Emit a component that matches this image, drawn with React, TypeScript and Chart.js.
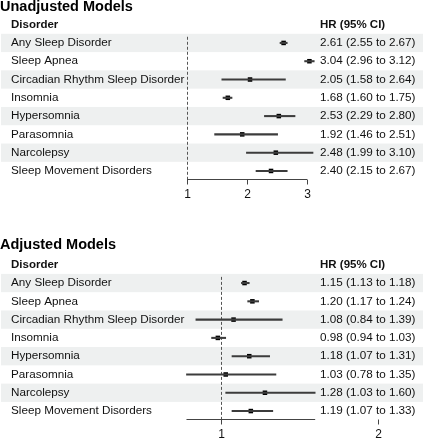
import React, { useEffect, useRef } from 'react';
import { Chart, registerables } from 'chart.js';

Chart.register(...registerables);

// ---- data ----
const categories = [
  'Any Sleep Disorder',
  'Sleep Apnea',
  'Circadian Rhythm Sleep Disorder',
  'Insomnia',
  'Hypersomnia',
  'Parasomnia',
  'Narcolepsy',
  'Sleep Movement Disorders',
];
const unadjustedHR = [2.61, 3.04, 2.05, 1.68, 2.53, 1.92, 2.48, 2.4];
const unadjustedLower = [2.55, 2.96, 1.58, 1.6, 2.29, 1.46, 1.99, 2.15];
const unadjustedUpper = [2.67, 3.12, 2.64, 1.75, 2.8, 2.51, 3.1, 2.67];
const adjustedHR = [1.15, 1.2, 1.08, 0.98, 1.18, 1.03, 1.28, 1.19];
const adjustedLower = [1.13, 1.17, 0.84, 0.94, 1.07, 0.78, 1.03, 1.07];
const adjustedUpper = [1.18, 1.24, 1.39, 1.03, 1.31, 1.35, 1.6, 1.33];
const unadjustedTicks = [1, 2, 3];
const adjustedTicks = [1, 2];
const referenceValue = 1;
const labelHeader = 'Disorder';
const hrHeader = 'HR (95% CI)';

const FONT = '"Liberation Sans", Arial, Helvetica, sans-serif';

type PanelProps = {
  title: string;
  hr: number[];
  lower: number[];
  upper: number[];
  ticks: number[];
  xMin: number;
  xMax: number;
  axisFrom: number;
  axisTo: number;
  height: number;
  titleY: number;
  padTop: number;
  padBottom: number;
};

function ForestPanel(props: PanelProps) {
  const ref = useRef<HTMLCanvasElement>(null);
  useEffect(() => {
    const { title, hr, lower, upper, ticks, xMin, xMax, axisFrom, axisTo, titleY, padTop, padBottom } = props;
    const rowLabels = [labelHeader, ...categories];
    const hrLabels = [
      hrHeader,
      ...hr.map((v, i) => `${v.toFixed(2)} (${lower[i].toFixed(2)} to ${upper[i].toFixed(2)})`),
    ];
    const ciData: any[] = [null, ...categories.map((_, i) => [lower[i], upper[i]])];
    const pointData = categories.map((c, i) => ({ x: hr[i], y: c }));

    const forestPlugin = {
      id: 'forestDecor',
      beforeDraw(chart: any) {
        const { ctx } = chart;
        const y = chart.scales.y;
        const step = y.getPixelForValue(1) - y.getPixelForValue(0);
        ctx.save();
        ctx.fillStyle = '#eef0f0';
        for (let i = 1; i < rowLabels.length; i += 2) {
          const c = y.getPixelForValue(i);
          ctx.fillRect(1, c - step / 2, chart.width - 1, step);
        }
        ctx.restore();
      },
      beforeDatasetsDraw(chart: any) {
        const { ctx, chartArea } = chart;
        const x = chart.scales.x;
        const y = chart.scales.y;
        const step = y.getPixelForValue(1) - y.getPixelForValue(0);
        const top = y.getPixelForValue(1) - step / 2 + 3;
        const px = Math.round(x.getPixelForValue(referenceValue)) + 0.5;
        ctx.save();
        ctx.strokeStyle = '#555555';
        ctx.lineWidth = 1;
        ctx.setLineDash([3, 2]);
        ctx.beginPath();
        ctx.moveTo(px, top);
        ctx.lineTo(px, chartArea.bottom);
        ctx.stroke();
        ctx.restore();
      },
      afterDraw(chart: any) {
        const { ctx, chartArea } = chart;
        const x = chart.scales.x;
        const base = Math.round(chartArea.bottom) - 0.5;
        ctx.save();
        // title
        ctx.fillStyle = '#000';
        ctx.font = `bold 14.5px ${FONT}`;
        ctx.textAlign = 'left';
        ctx.textBaseline = 'middle';
        ctx.fillText(title, 0, titleY);
        // axis line
        ctx.strokeStyle = '#444444';
        ctx.lineWidth = 1;
        ctx.beginPath();
        ctx.moveTo(x.getPixelForValue(axisFrom), base);
        ctx.lineTo(x.getPixelForValue(axisTo), base);
        ctx.stroke();
        // ticks + labels
        ctx.font = `12px ${FONT}`;
        ctx.textAlign = 'center';
        ctx.fillStyle = '#111';
        for (const t of ticks) {
          const px = Math.round(x.getPixelForValue(t)) + 0.5;
          ctx.beginPath();
          ctx.moveTo(px, base);
          ctx.lineTo(px, base + 5);
          ctx.stroke();
          ctx.fillText(String(t), px, base + 15);
        }
        ctx.restore();
      },
    };

    const tickFont = (c: any) =>
      c.index === 0
        ? { family: FONT, size: 11.5, weight: 'bold' as const }
        : { family: FONT, size: 11.7, weight: 'normal' as const };

    const chart = new Chart(ref.current as HTMLCanvasElement, {
      type: 'bar',
      data: {
        labels: rowLabels,
        datasets: [
          {
            type: 'bar',
            indexAxis: 'y',
            data: ciData,
            xAxisID: 'x',
            yAxisID: 'y',
            backgroundColor: '#3c3c3c',
            borderWidth: 0,
            barThickness: 1.4,
            clip: false,
          } as any,
          {
            type: 'scatter',
            data: pointData,
            xAxisID: 'x',
            yAxisID: 'y',
            pointStyle: 'rect',
            pointRadius: 3.2,
            backgroundColor: '#000',
            borderWidth: 0,
            clip: false,
          } as any,
        ],
      },
      options: {
        responsive: false,
        animation: false,
        indexAxis: 'y',
        layout: { padding: { left: 11, right: 0, top: padTop, bottom: padBottom } },
        plugins: {
          legend: { display: false },
          tooltip: { enabled: false },
          title: { display: false },
        },
        events: [],
        scales: {
          x: { type: 'linear', min: xMin, max: xMax, display: false },
          y: {
            type: 'category',
            labels: rowLabels,
            position: 'left',
            offset: true,
            grid: { display: false, drawTicks: false },
            border: { display: false },
            ticks: { crossAlign: 'far', padding: 0, autoSkip: false, color: '#111', font: tickFont },
            afterFit: (s: any) => {
              s.width = 175;
            },
          },
          y2: {
            type: 'category',
            labels: hrLabels,
            position: 'right',
            offset: true,
            grid: { display: false, drawTicks: false },
            border: { display: false },
            ticks: { crossAlign: 'near', padding: 2, autoSkip: false, color: '#111', font: tickFont },
            afterFit: (s: any) => {
              s.width = 105;
            },
          },
        },
      } as any,
      plugins: [forestPlugin],
    });
    return () => chart.destroy();
  }, []);
  return (
    <canvas
      ref={ref}
      width={423}
      height={props.height}
      style={{ display: 'block', width: 423, height: props.height }}
    />
  );
}

export default function App() {
  return (
    <div style={{ position: 'absolute', left: 0, top: 0, width: 423, height: 440, overflow: 'hidden' }}>
      <ForestPanel
        title="Unadjusted Models"
        hr={unadjustedHR}
        lower={unadjustedLower}
        upper={unadjustedUpper}
        ticks={unadjustedTicks}
        xMin={0.983}
        xMax={3.183}
        axisFrom={1}
        axisTo={3}
        height={220}
        titleY={7}
        padTop={15.5}
        padBottom={39.9}
      />
      <ForestPanel
        title="Adjusted Models"
        hr={adjustedHR}
        lower={adjustedLower}
        upper={adjustedUpper}
        ticks={adjustedTicks}
        xMin={0.777}
        xMax={1.618}
        axisFrom={0.78}
        axisTo={1.6}
        height={220}
        titleY={25}
        padTop={35.6}
        padBottom={19.8}
      />
    </div>
  );
}
